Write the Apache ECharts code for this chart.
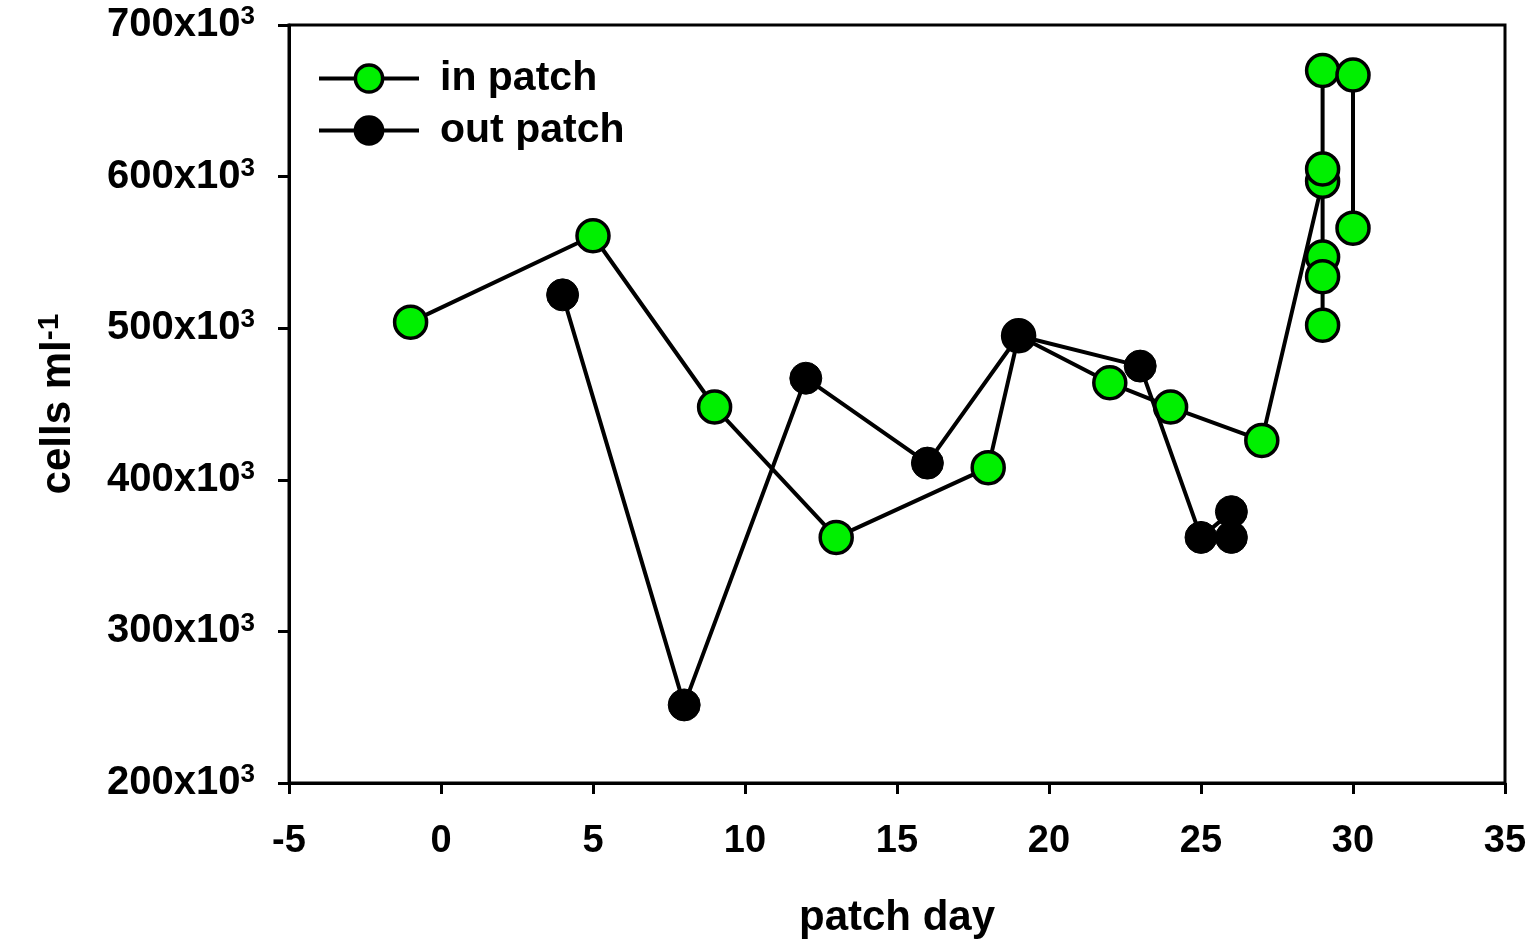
<!DOCTYPE html>
<html><head><meta charset="utf-8">
<script src="https://cdn.jsdelivr.net/npm/echarts@6/dist/echarts.min.js"></script>
<style>html,body{margin:0;padding:0;background:#fff}#c{width:1535px;height:939px}</style>
</head><body><div id="c"></div>
<script>
// in patch (null marks a break in the line)
const inDays   = [-1, 5, 9, 13, 18, 19, 22, 24, 27, 29, 29, 29, 29, 29, 29, null, 30, 30];
const inValues = [504000, 561000, 448000, 362000, 408000, 495000, 464000, 448000, 426000, 597000, 670000, 605000, 547000, 534000, 502000, null, 667000, 566000];
// out patch
const outDays   = [4, 8, 12, 16, 19, 23, 25, 26, 26];
const outValues = [522000, 251500, 467000, 411000, 495000, 475000, 362000, 379000, 362000];
const yTicks = [200000, 300000, 400000, 500000, 600000, 700000];
const xTicks = [-5, 0, 5, 10, 15, 20, 25, 30, 35];

function pairs(xs, ys){ return xs.map((x,i)=> (x===null||ys[i]===null) ? '-' : [x, ys[i]]); }

const F = '"Liberation Sans", Arial, sans-serif';
const chart = echarts.init(document.getElementById('c'));
chart.setOption({
  animation:false,
  grid:{left:289, right:30, top:25, bottom:156, show:true, borderColor:'#000', borderWidth:3,
        containLabel:false, outerBoundsMode:'none'},
  legend:{
    left:312, top:53, orient:'vertical', itemGap:11, itemWidth:100, itemHeight:34,
    itemStyle:{borderColor:'#000', borderWidth:3.5},
    lineStyle:{color:'#000', width:4},
    textStyle:{fontFamily:F, fontWeight:'bold', fontSize:41, color:'#000', padding:[0,0,0,16]},
    data:['in patch','out patch']
  },
  xAxis:{
    type:'value', min:xTicks[0], max:xTicks[xTicks.length-1], interval:5,
    name:'patch day', nameLocation:'middle', nameGap:114,
    nameTextStyle:{fontFamily:F, fontWeight:'bold', fontSize:42, color:'#000'},
    axisLine:{show:true, onZero:false, lineStyle:{color:'#000', width:3}},
    axisTick:{show:true, inside:false, length:11, lineStyle:{color:'#000', width:3}},
    axisLabel:{fontFamily:F, fontWeight:'bold', fontSize:38, color:'#000', margin:40},
    splitLine:{show:false}
  },
  yAxis:{
    type:'value', min:yTicks[0], max:yTicks[yTicks.length-1], interval:100000,
    name:'cells ml{s|-1}', nameLocation:'middle', nameGap:208, nameRotate:90,
    nameTextStyle:{fontFamily:F, fontWeight:'bold', fontSize:42, color:'#000',
      rich:{s:{fontFamily:F, fontWeight:'bold', fontSize:30, color:'#000', verticalAlign:'top', padding:[0,0,16,0]}}},
    axisLine:{show:true, onZero:false, lineStyle:{color:'#000', width:3}},
    axisTick:{show:true, inside:false, length:11, lineStyle:{color:'#000', width:3}},
    axisLabel:{
      margin:34,
      formatter: v => '{n|' + (v/1000) + 'x10}{s|3}',
      rich:{
        n:{fontFamily:F, fontWeight:'bold', fontSize:40, color:'#000'},
        s:{fontFamily:F, fontWeight:'bold', fontSize:26, color:'#000', verticalAlign:'top', padding:[0,0,16,0]}
      }
    },
    splitLine:{show:false}
  },
  series:[
    {
      name:'in patch', type:'line', data:pairs(inDays, inValues), z:2,
      connectNulls:false,
      symbol:'circle', symbolSize:32,
      lineStyle:{color:'#000', width:4},
      itemStyle:{color:'#00f000', borderColor:'#000', borderWidth:3.5}
    },
    {
      name:'out patch', type:'line', data:pairs(outDays, outValues), z:3,
      symbol:'circle', symbolSize:32,
      lineStyle:{color:'#000', width:4},
      itemStyle:{color:'#000', borderColor:'#000', borderWidth:1}
    }
  ]
});
</script></body></html>
